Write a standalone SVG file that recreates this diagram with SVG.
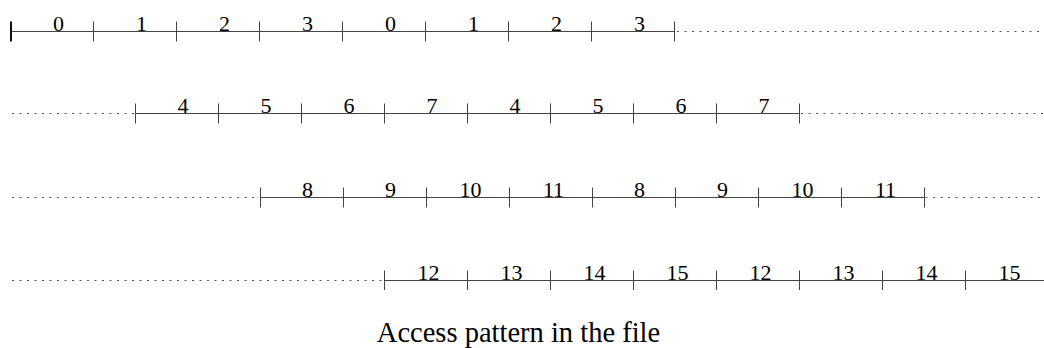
<svg xmlns="http://www.w3.org/2000/svg" width="1044" height="348" viewBox="0 0 1044 348">
<style>
.ln{stroke:#444;stroke-width:1;fill:none}
.dot{stroke:#555;stroke-width:1;stroke-dasharray:2 5.5;fill:none}
.tk{stroke:#444;stroke-width:1}
.n{font-family:"Liberation Serif","Times New Roman",serif;font-size:22px;fill:#000;text-anchor:middle}
.cap{font-family:"Liberation Serif","Times New Roman",serif;font-size:28.5px;fill:#000;text-anchor:middle}
</style>
<rect width="1044" height="348" fill="#fff"/>
<g id="row1">
<line class="ln" x1="11" y1="31.5" x2="675" y2="31.5"/>
<line class="dot" x1="677" y1="31.5" x2="1044" y2="31.5"/>
<line x1="11" y1="21.5" x2="11" y2="41.5" stroke="#111" stroke-width="2"/>
<g class="tk">
<line x1="93.5" y1="21.5" x2="93.5" y2="41.5"/><line x1="176.5" y1="21.5" x2="176.5" y2="41.5"/><line x1="259.5" y1="21.5" x2="259.5" y2="41.5"/><line x1="342.5" y1="21.5" x2="342.5" y2="41.5"/><line x1="425.5" y1="21.5" x2="425.5" y2="41.5"/><line x1="508.5" y1="21.5" x2="508.5" y2="41.5"/><line x1="591.5" y1="21.5" x2="591.5" y2="41.5"/><line x1="674.5" y1="21.5" x2="674.5" y2="41.5"/>
</g>
<text class="n" x="58.5" y="31">0</text><text class="n" x="141.5" y="31">1</text><text class="n" x="224.5" y="31">2</text><text class="n" x="307.5" y="31">3</text><text class="n" x="390.5" y="31">0</text><text class="n" x="473.5" y="31">1</text><text class="n" x="556.5" y="31">2</text><text class="n" x="639.5" y="31">3</text>
</g>
<g id="row2">
<line class="dot" x1="12" y1="113.5" x2="134" y2="113.5"/>
<line class="ln" x1="135.5" y1="113.5" x2="799.5" y2="113.5"/>
<line class="dot" x1="801" y1="113.5" x2="1044" y2="113.5"/>
<g class="tk">
<line x1="135.5" y1="103.5" x2="135.5" y2="123.5"/><line x1="218.5" y1="103.5" x2="218.5" y2="123.5"/><line x1="301.5" y1="103.5" x2="301.5" y2="123.5"/><line x1="384.5" y1="103.5" x2="384.5" y2="123.5"/><line x1="467.5" y1="103.5" x2="467.5" y2="123.5"/><line x1="550.5" y1="103.5" x2="550.5" y2="123.5"/><line x1="633.5" y1="103.5" x2="633.5" y2="123.5"/><line x1="716.5" y1="103.5" x2="716.5" y2="123.5"/><line x1="799.5" y1="103.5" x2="799.5" y2="123.5"/>
</g>
<text class="n" x="183" y="113">4</text><text class="n" x="266" y="113">5</text><text class="n" x="349" y="113">6</text><text class="n" x="432" y="113">7</text><text class="n" x="515" y="113">4</text><text class="n" x="598" y="113">5</text><text class="n" x="681" y="113">6</text><text class="n" x="764" y="113">7</text>
</g>
<g id="row3">
<line class="dot" x1="12" y1="197.5" x2="259" y2="197.5"/>
<line class="ln" x1="260.5" y1="197.5" x2="924" y2="197.5"/>
<line class="dot" x1="925.5" y1="197.5" x2="1044" y2="197.5"/>
<g class="tk">
<line x1="260.5" y1="187.5" x2="260.5" y2="207.5"/><line x1="343.5" y1="187.5" x2="343.5" y2="207.5"/><line x1="426.5" y1="187.5" x2="426.5" y2="207.5"/><line x1="509.5" y1="187.5" x2="509.5" y2="207.5"/><line x1="592.5" y1="187.5" x2="592.5" y2="207.5"/><line x1="675.5" y1="187.5" x2="675.5" y2="207.5"/><line x1="758.5" y1="187.5" x2="758.5" y2="207.5"/><line x1="841.5" y1="187.5" x2="841.5" y2="207.5"/><line x1="924.5" y1="187.5" x2="924.5" y2="207.5"/>
</g>
<text class="n" x="307.5" y="197">8</text><text class="n" x="390.5" y="197">9</text><text class="n" x="470.5" y="197">10</text><text class="n" x="553.5" y="197">11</text><text class="n" x="639.5" y="197">8</text><text class="n" x="722.5" y="197">9</text><text class="n" x="802.5" y="197">10</text><text class="n" x="885.5" y="197">11</text>
</g>
<g id="row4">
<line class="dot" x1="12" y1="280.5" x2="383" y2="280.5"/>
<line class="ln" x1="384.5" y1="280.5" x2="1044" y2="280.5"/>
<g class="tk">
<line x1="384.5" y1="270.5" x2="384.5" y2="290"/><line x1="467.5" y1="270.5" x2="467.5" y2="290"/><line x1="550.5" y1="270.5" x2="550.5" y2="290"/><line x1="633.5" y1="270.5" x2="633.5" y2="290"/><line x1="716.5" y1="270.5" x2="716.5" y2="290"/><line x1="799.5" y1="270.5" x2="799.5" y2="290"/><line x1="882.5" y1="270.5" x2="882.5" y2="290"/><line x1="965.5" y1="270.5" x2="965.5" y2="290"/>
</g>
<text class="n" x="428.5" y="280">12</text><text class="n" x="511.5" y="280">13</text><text class="n" x="594.5" y="280">14</text><text class="n" x="677.5" y="280">15</text><text class="n" x="760.5" y="280">12</text><text class="n" x="843.5" y="280">13</text><text class="n" x="926.5" y="280">14</text><text class="n" x="1009.5" y="280">15</text>
</g>
<text id="caption" class="cap" x="518.5" y="342">Access pattern in the file</text>
</svg>
